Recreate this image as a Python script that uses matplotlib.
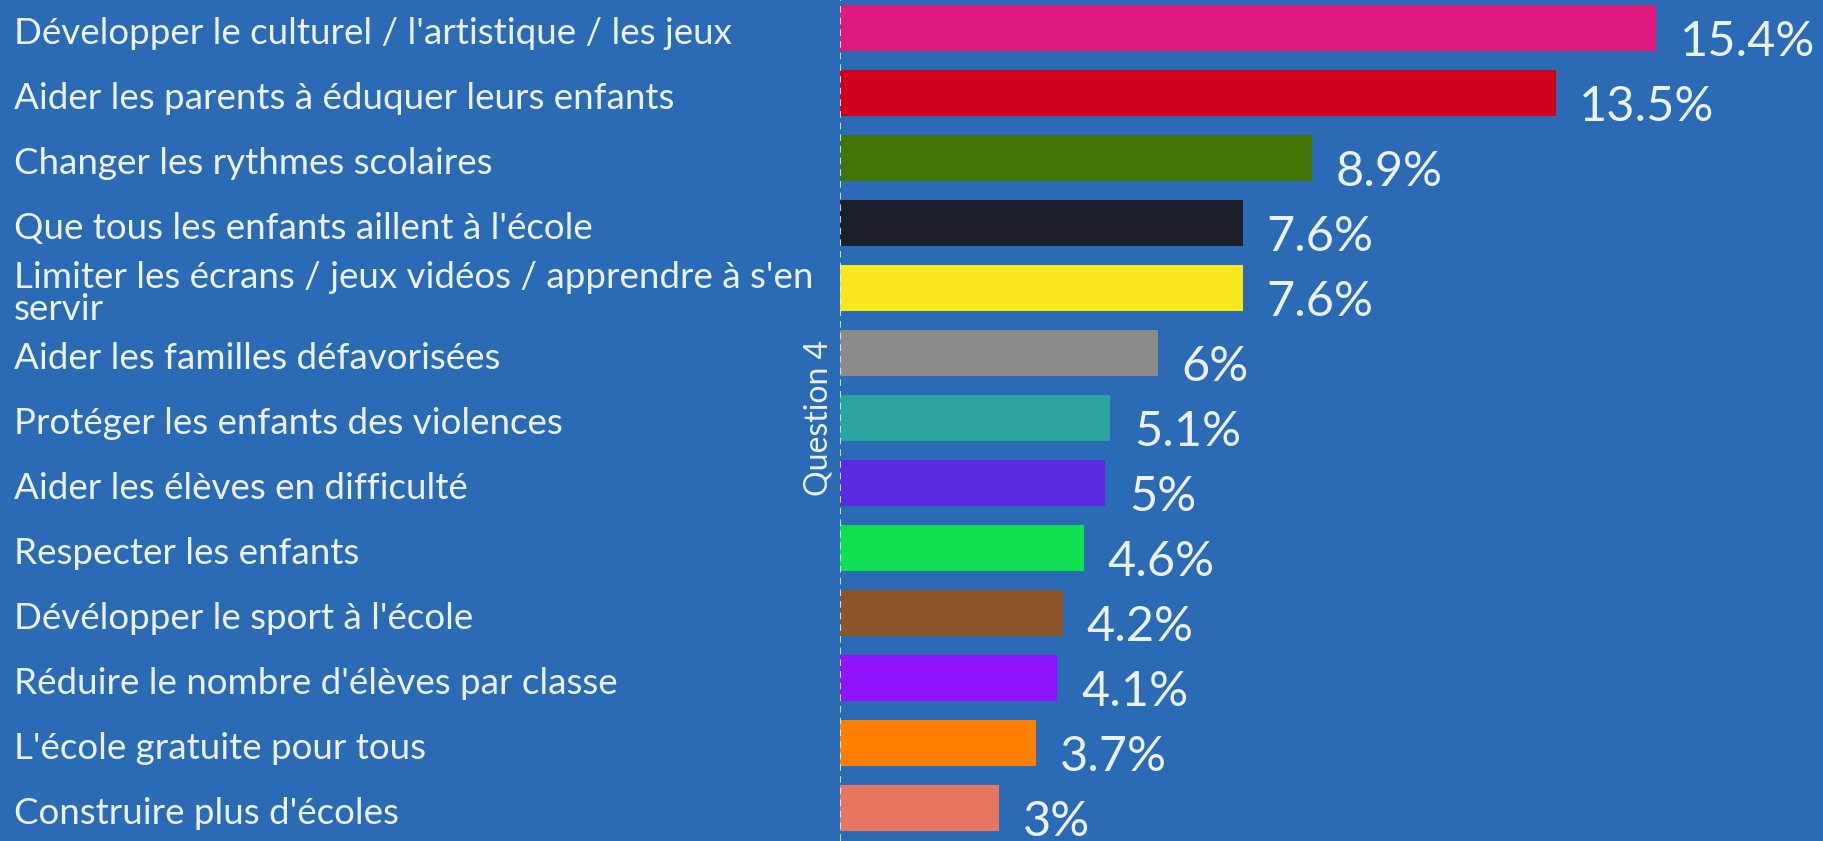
import matplotlib
matplotlib.use("Agg")
import matplotlib.pyplot as plt
import matplotlib.transforms as mtransforms

# data
categories = [
    "Développer le culturel / l'artistique / les jeux",
    "Aider les parents à éduquer leurs enfants",
    "Changer les rythmes scolaires",
    "Que tous les enfants aillent à l'école",
    "Limiter les écrans / jeux vidéos / apprendre à s'en\nservir",
    "Aider les familles défavorisées",
    "Protéger les enfants des violences",
    "Aider les élèves en difficulté",
    "Respecter les enfants",
    "Dévélopper le sport à l'école",
    "Réduire le nombre d'élèves par classe",
    "L'école gratuite pour tous",
    "Construire plus d'écoles",
]
values = [15.4, 13.5, 8.9, 7.6, 7.6, 6.0, 5.1, 5.0, 4.6, 4.2, 4.1, 3.7, 3.0]
value_labels = ["15.4%", "13.5%", "8.9%", "7.6%", "7.6%", "6%", "5.1%",
                "5%", "4.6%", "4.2%", "4.1%", "3.7%", "3%"]
colors = ["#e0197d", "#d0021b", "#417505", "#1b1f2a", "#f8e71c", "#8b8b8b",
          "#2ba3a0", "#5b2ae0", "#0ee050", "#8b572a", "#9013fe", "#ff7f00",
          "#e8765f"]

bg = "#2b6ab4"
txt = "#eaf3ff"

fig = plt.figure(figsize=(18.23, 8.41), dpi=100, facecolor=bg)
ax = fig.add_axes([840 / 1823, 0, 1 - 840 / 1823, 1])
ax.set_facecolor(bg)

pos = list(range(len(values)))
ax.barh(pos, values, height=0.7, color=colors)
ax.set_xlim(0, 983 / 53)
ax.set_ylim((841 - 28) / 65, -28 / 65)
ax.axis("off")

# dashed baseline
ax.axvline(0, color=txt, lw=1.2, ls=(0, (4, 3)))

for i, v in enumerate(values):
    ax.text(v + 0.45, i + 0.22, value_labels[i], color=txt, fontsize=35,
            family="Lato", va="center", ha="left")

trans = mtransforms.blended_transform_factory(fig.transFigure, ax.transData)
for i, c in enumerate(categories):
    ax.text(14 / 1823, i + 0.08, c, transform=trans, color=txt, fontsize=26.5,
            family="Lato", va="center", ha="left", linespacing=0.95)

fig.text(818 / 1823, 1 - 418 / 841, "Question 4", rotation=90, color=txt,
         fontsize=23, family="Lato", va="center", ha="center")

fig.savefig("out.png", dpi=100, facecolor=bg)
